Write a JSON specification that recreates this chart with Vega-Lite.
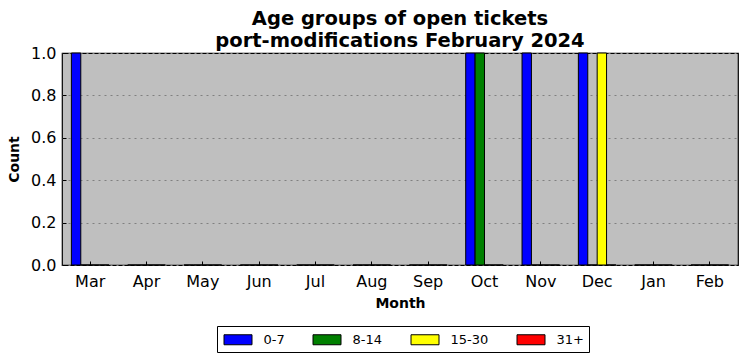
{
  "$schema": "https://vega.github.io/schema/vega-lite/v6.json",
  "width": 676,
  "height": 212,
  "autosize": {"type": "none"},
  "padding": {"left": 62, "top": 53, "right": 9, "bottom": 96},
  "background": "white",
  "config": {
    "font": "DejaVu Sans",
    "view": {"fill": "#bfbfbf", "stroke": "black", "strokeWidth": 1.2},
    "axis": {"labelColor": "black", "titleColor": "black", "tickColor": "black", "domain": false}
  },
  "title": {
    "text": ["Age groups of open tickets", "port-modifications February 2024"],
    "fontSize": 19.5,
    "fontWeight": "bold",
    "color": "black",
    "anchor": "middle",
    "offset": -6,
    "lineHeight": 22
  },
  "data": {
    "values": [
      {"month": "Mar", "age": "0-7", "count": 1},
      {"month": "Mar", "age": "8-14", "count": 0},
      {"month": "Mar", "age": "15-30", "count": 0},
      {"month": "Mar", "age": "31+", "count": 0},
      {"month": "Apr", "age": "0-7", "count": 0},
      {"month": "Apr", "age": "8-14", "count": 0},
      {"month": "Apr", "age": "15-30", "count": 0},
      {"month": "Apr", "age": "31+", "count": 0},
      {"month": "May", "age": "0-7", "count": 0},
      {"month": "May", "age": "8-14", "count": 0},
      {"month": "May", "age": "15-30", "count": 0},
      {"month": "May", "age": "31+", "count": 0},
      {"month": "Jun", "age": "0-7", "count": 0},
      {"month": "Jun", "age": "8-14", "count": 0},
      {"month": "Jun", "age": "15-30", "count": 0},
      {"month": "Jun", "age": "31+", "count": 0},
      {"month": "Jul", "age": "0-7", "count": 0},
      {"month": "Jul", "age": "8-14", "count": 0},
      {"month": "Jul", "age": "15-30", "count": 0},
      {"month": "Jul", "age": "31+", "count": 0},
      {"month": "Aug", "age": "0-7", "count": 0},
      {"month": "Aug", "age": "8-14", "count": 0},
      {"month": "Aug", "age": "15-30", "count": 0},
      {"month": "Aug", "age": "31+", "count": 0},
      {"month": "Sep", "age": "0-7", "count": 0},
      {"month": "Sep", "age": "8-14", "count": 0},
      {"month": "Sep", "age": "15-30", "count": 0},
      {"month": "Sep", "age": "31+", "count": 0},
      {"month": "Oct", "age": "0-7", "count": 1},
      {"month": "Oct", "age": "8-14", "count": 1},
      {"month": "Oct", "age": "15-30", "count": 0},
      {"month": "Oct", "age": "31+", "count": 0},
      {"month": "Nov", "age": "0-7", "count": 1},
      {"month": "Nov", "age": "8-14", "count": 0},
      {"month": "Nov", "age": "15-30", "count": 0},
      {"month": "Nov", "age": "31+", "count": 0},
      {"month": "Dec", "age": "0-7", "count": 1},
      {"month": "Dec", "age": "8-14", "count": 0},
      {"month": "Dec", "age": "15-30", "count": 1},
      {"month": "Dec", "age": "31+", "count": 0},
      {"month": "Jan", "age": "0-7", "count": 0},
      {"month": "Jan", "age": "8-14", "count": 0},
      {"month": "Jan", "age": "15-30", "count": 0},
      {"month": "Jan", "age": "31+", "count": 0},
      {"month": "Feb", "age": "0-7", "count": 0},
      {"month": "Feb", "age": "8-14", "count": 0},
      {"month": "Feb", "age": "15-30", "count": 0},
      {"month": "Feb", "age": "31+", "count": 0}
    ]
  },
  "mark": {"type": "bar", "stroke": "black", "strokeWidth": 1},
  "encoding": {
    "x": {
      "field": "month", "type": "nominal",
      "sort": ["Mar", "Apr", "May", "Jun", "Jul", "Aug", "Sep", "Oct", "Nov", "Dec", "Jan", "Feb"],
      "scale": {"paddingInner": 0.333, "paddingOuter": 0.1667},
      "axis": {
        "orient": "bottom", "title": "Month", "titleFontSize": 14, "titleFontWeight": "bold",
        "labelFontSize": 16, "labelAngle": 0, "tickSize": -4, "labelPadding": 12,
        "grid": false, "titlePadding": 7
      }
    },
    "xOffset": {
      "field": "age", "type": "nominal",
      "sort": ["0-7", "8-14", "15-30", "31+"],
      "scale": {"paddingInner": 0, "paddingOuter": 0}
    },
    "y": {
      "field": "count", "type": "quantitative",
      "scale": {"domain": [0, 1], "nice": false},
      "axis": {
        "orient": "left", "title": "Count", "titleFontSize": 14, "titleFontWeight": "bold",
        "values": [0, 0.2, 0.4, 0.6, 0.8, 1.0], "format": ".1f",
        "labelFontSize": 16, "tickSize": -4, "labelPadding": 10,
        "grid": true, "gridDash": [2, 4], "gridColor": "#808080", "gridWidth": 1, "titlePadding": 9
      }
    },
    "color": {
      "field": "age", "type": "nominal",
      "scale": {"domain": ["0-7", "8-14", "15-30", "31+"], "range": ["#0000ff", "#008000", "#ffff00", "#ff0000"]},
      "legend": {
        "orient": "none", "legendX": 155, "legendY": 273, "direction": "horizontal", "columns": 4,
        "title": null, "strokeColor": "black", "fillColor": "white", "padding": 5,
        "labelFontSize": 13, "labelColor": "black", "labelOffset": 17,
        "symbolType": "M-1.75,-0.625H1.75V0.625H-1.75Z", "symbolSize": 256, "symbolOffset": 7.5,
        "symbolStrokeColor": "black", "symbolStrokeWidth": 1, "symbolOpacity": 1,
        "columnPadding": 26, "gridAlign": "each", "cornerRadius": 0
      }
    }
  }
}
